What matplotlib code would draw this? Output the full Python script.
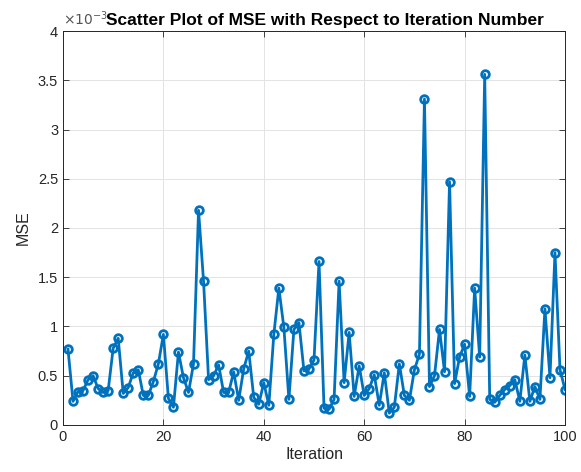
import numpy as np
import matplotlib.pyplot as plt
from matplotlib.ticker import FuncFormatter

# MSE per iteration, in units of 1e-3
iterations = list(range(1, 101))
mse_e3 = [
    0.77, 0.24, 0.34, 0.35, 0.46, 0.50, 0.37, 0.33, 0.35, 0.78,
    0.88, 0.32, 0.38, 0.53, 0.56, 0.30, 0.30, 0.44, 0.62, 0.92,
    0.27, 0.18, 0.74, 0.48, 0.33, 0.62, 2.18, 1.46, 0.46, 0.50,
    0.61, 0.33, 0.33, 0.54, 0.25, 0.57, 0.75, 0.28, 0.21, 0.43,
    0.20, 0.92, 1.39, 0.99, 0.26, 0.97, 1.04, 0.55, 0.57, 0.66,
    1.66, 0.17, 0.16, 0.26, 1.46, 0.43, 0.94, 0.29, 0.60, 0.30,
    0.37, 0.51, 0.20, 0.53, 0.12, 0.18, 0.62, 0.30, 0.25, 0.56,
    0.72, 3.31, 0.39, 0.50, 0.97, 0.54, 2.47, 0.42, 0.69, 0.82,
    0.29, 1.39, 0.69, 3.56, 0.26, 0.23, 0.30, 0.36, 0.40, 0.46,
    0.24, 0.71, 0.24, 0.39, 0.26, 1.18, 0.48, 1.75, 0.56, 0.36,
]
mse = np.array(mse_e3) * 1e-3

x_ticks = [0, 20, 40, 60, 80, 100]
y_ticks = [0, 0.5e-3, 1e-3, 1.5e-3, 2e-3, 2.5e-3, 3e-3, 3.5e-3, 4e-3]

plt.rcParams['font.family'] = ['Liberation Sans', 'DejaVu Sans']

fig = plt.figure(figsize=(5.81, 4.72), dpi=100)
ax = fig.add_axes([0.1084, 0.0996, 0.8641, 0.8347])

axis_col = '#262626'
ax.plot(iterations, mse, color='#0072BD', linewidth=2, marker='o',
        markersize=5.5, markerfacecolor='none', markeredgewidth=2)

ax.set_xlim(0, 100)
ax.set_ylim(0, 4e-3)
ax.set_xticks(x_ticks)
ax.set_yticks(y_ticks)
ax.yaxis.set_major_formatter(FuncFormatter(lambda v, p: f'{v * 1e3:g}'))
ax.grid(True, color='#e3e3e3', linewidth=0.7)
ax.set_axisbelow(True)

ax.tick_params(direction='in', top=True, right=True, length=4,
               labelsize=10.5, colors=axis_col, width=0.6)
for s in ax.spines.values():
    s.set_color(axis_col)
    s.set_linewidth(0.7)

ax.set_xlabel('Iteration', fontsize=11.5, color=axis_col, labelpad=2)
ax.set_ylabel('MSE', fontsize=11.5, color=axis_col, labelpad=5)
ax.set_title('Scatter Plot of MSE with Respect to Iteration Number',
             fontsize=12.5, fontweight='bold', x=0.522, pad=4)
# exponent label as a figure text so it sits on top of the title, as in MATLAB
fig.text(0.1084, 0.941, r'$\times10^{-3}$', fontsize=10, color='#555555',
         ha='left', va='bottom')

fig.savefig('out.png', dpi=100)
